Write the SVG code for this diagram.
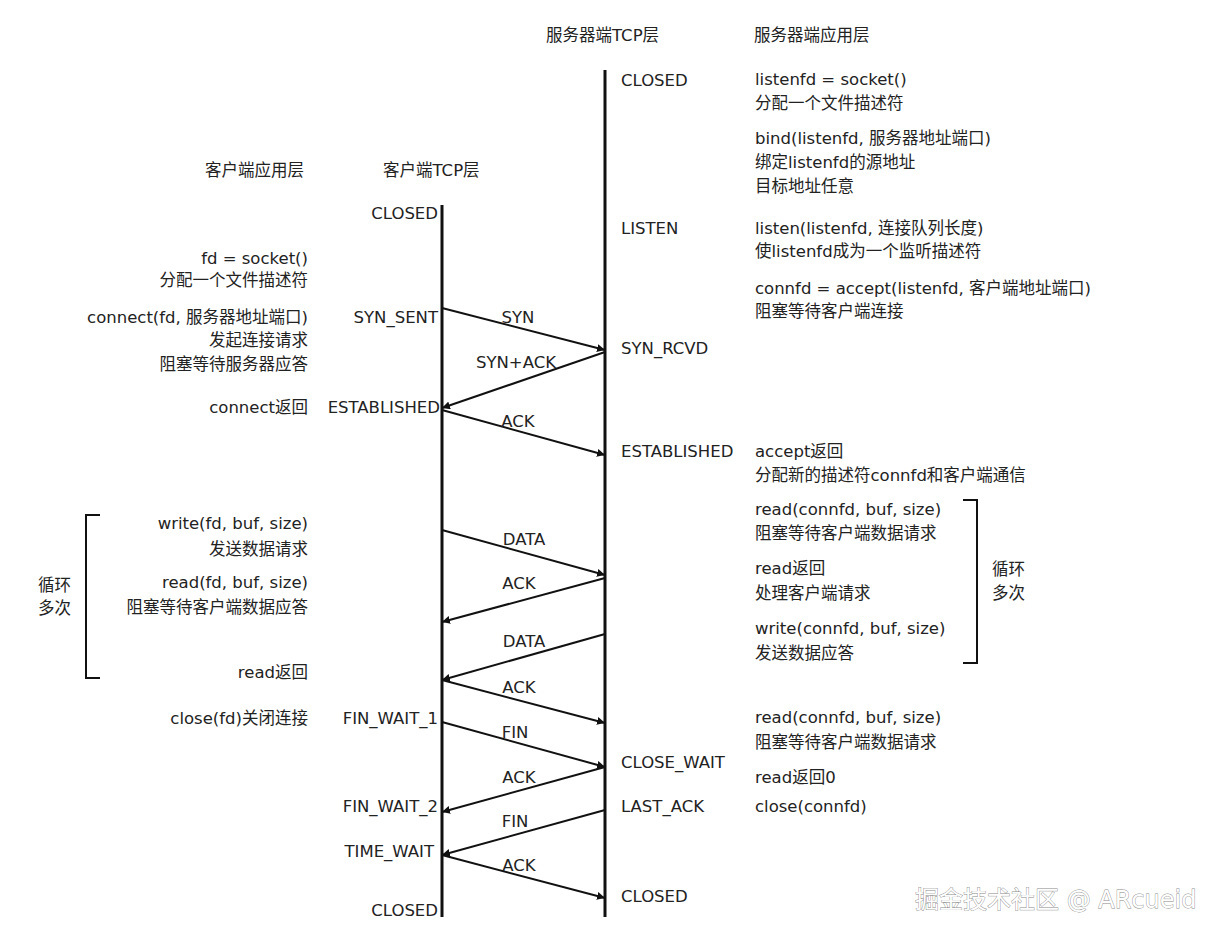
<svg xmlns="http://www.w3.org/2000/svg" width="1225" height="940" viewBox="0 0 1225 940">
<style>
text{font-family:"DejaVu Sans","Noto Sans CJK SC",sans-serif;font-size:16.5px;fill:#222;dominant-baseline:central}
.r{text-anchor:end}
.l{stroke:#111;stroke-width:3;fill:none}
.a{stroke:#111;stroke-width:2;fill:none;marker-end:url(#ah)}
.wm{font-size:24px;fill:#fff;stroke:#888;stroke-width:0.8;paint-order:stroke}
</style>
<defs><marker id="ah" viewBox="0 0 10 10" refX="10" refY="5" markerWidth="8" markerHeight="8" markerUnits="userSpaceOnUse" orient="auto"><path d="M0,0L10,5L0,10z" fill="#111"/></marker></defs>
<rect width="1225" height="940" fill="#fff"/>
<g id="headers">
<text x="205" y="170">客户端应用层</text><text x="383" y="170">客户端TCP层</text>
<text x="546" y="35">服务器端TCP层</text><text x="754" y="35">服务器端应用层</text>
</g>
<g id="client-line"><line class="l" x1="442" y1="205" x2="442" y2="917"/></g>
<g id="server-line"><line class="l" x1="605" y1="70" x2="605" y2="917"/></g>
<g id="connectors">
<line class="a" x1="442" y1="308" x2="605" y2="350"/>
<line class="a" x1="605" y1="352" x2="442" y2="408"/>
<line class="a" x1="442" y1="410" x2="605" y2="455"/>
<line class="a" x1="442" y1="530" x2="605" y2="575"/>
<line class="a" x1="605" y1="578" x2="442" y2="622"/>
<line class="a" x1="605" y1="634" x2="442" y2="680"/>
<line class="a" x1="442" y1="680" x2="605" y2="723"/>
<line class="a" x1="442" y1="722" x2="605" y2="767"/>
<line class="a" x1="605" y1="767" x2="442" y2="812"/>
<line class="a" x1="605" y1="810" x2="442" y2="855"/>
<line class="a" x1="442" y1="855" x2="605" y2="898"/>
</g>
<g id="msg-labels">
<text x="518" y="317" text-anchor="middle">SYN</text>
<text x="516" y="362" text-anchor="middle">SYN+ACK</text>
<text x="518" y="421" text-anchor="middle">ACK</text>
<text x="524" y="539" text-anchor="middle">DATA</text>
<text x="519" y="583" text-anchor="middle">ACK</text>
<text x="524" y="641" text-anchor="middle">DATA</text>
<text x="519" y="687" text-anchor="middle">ACK</text>
<text x="515" y="732" text-anchor="middle">FIN</text>
<text x="519" y="777" text-anchor="middle">ACK</text>
<text x="515" y="821" text-anchor="middle">FIN</text>
<text x="519" y="865" text-anchor="middle">ACK</text>
</g>
<g id="client-states">
<text class="r" x="438" y="213">CLOSED</text>
<text class="r" x="438" y="317">SYN_SENT</text>
<text class="r" x="440" y="407">ESTABLISHED</text>
<text class="r" x="438" y="718">FIN_WAIT_1</text>
<text class="r" x="438" y="806">FIN_WAIT_2</text>
<text class="r" x="434" y="851">TIME_WAIT</text>
<text class="r" x="438" y="910">CLOSED</text>
</g>
<g id="client-app">
<text class="r" x="308" y="258">fd = socket()</text>
<text class="r" x="308" y="280">分配一个文件描述符</text>
<text class="r" x="308" y="317">connect(fd, 服务器地址端口)</text>
<text class="r" x="308" y="340">发起连接请求</text>
<text class="r" x="308" y="364">阻塞等待服务器应答</text>
<text class="r" x="308" y="407">connect返回</text>
<text class="r" x="308" y="523">write(fd, buf, size)</text>
<text class="r" x="308" y="549">发送数据请求</text>
<text class="r" x="308" y="582">read(fd, buf, size)</text>
<text class="r" x="308" y="607">阻塞等待客户端数据应答</text>
<text class="r" x="308" y="672">read返回</text>
<text class="r" x="308" y="718">close(fd)关闭连接</text>
</g>
<g id="server-states">
<text x="621" y="80">CLOSED</text>
<text x="621" y="228">LISTEN</text>
<text x="621" y="348">SYN_RCVD</text>
<text x="621" y="451">ESTABLISHED</text>
<text x="621" y="762">CLOSE_WAIT</text>
<text x="621" y="806">LAST_ACK</text>
<text x="621" y="896">CLOSED</text>
</g>
<g id="server-app">
<text x="755" y="79">listenfd = socket()</text>
<text x="755" y="103">分配一个文件描述符</text>
<text x="755" y="138">bind(listenfd, 服务器地址端口)</text>
<text x="755" y="162">绑定listenfd的源地址</text>
<text x="755" y="186">目标地址任意</text>
<text x="755" y="228">listen(listenfd, 连接队列长度)</text>
<text x="755" y="251">使listenfd成为一个监听描述符</text>
<text x="755" y="288">connfd = accept(listenfd, 客户端地址端口)</text>
<text x="755" y="311">阻塞等待客户端连接</text>
<text x="755" y="451">accept返回</text>
<text x="755" y="475">分配新的描述符connfd和客户端通信</text>
<text x="755" y="509">read(connfd, buf, size)</text>
<text x="755" y="533">阻塞等待客户端数据请求</text>
<text x="755" y="568">read返回</text>
<text x="755" y="593">处理客户端请求</text>
<text x="755" y="628">write(connfd, buf, size)</text>
<text x="755" y="653">发送数据应答</text>
<text x="755" y="717">read(connfd, buf, size)</text>
<text x="755" y="742">阻塞等待客户端数据请求</text>
<text x="755" y="777">read返回0</text>
<text x="755" y="806">close(connfd)</text>
</g>
<g id="left-loop">
<path d="M100,515H86V678H100" stroke="#111" stroke-width="2" fill="none"/>
<text x="38" y="585">循环</text><text x="38" y="608">多次</text>
</g>
<g id="right-loop">
<path d="M963,500H977V663H963" stroke="#111" stroke-width="2" fill="none"/>
<text x="992" y="569">循环</text><text x="992" y="593">多次</text>
</g>
<text class="wm" x="915" y="900">掘金技术社区 @ ARcueid</text>
</svg>
